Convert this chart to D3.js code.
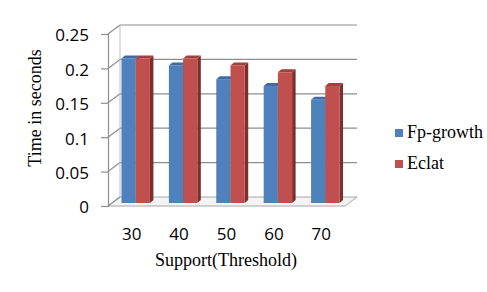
<!DOCTYPE html>
<html>
<head>
<meta charset="utf-8">
<script src="https://cdn.jsdelivr.net/npm/d3@7"></script>
<style>
  body { margin: 0; background: #fff; }
  svg { display: block; }
</style>
</head>
<body>
<svg id="chart" width="487" height="292"></svg>
<script>
// chart values
var categories = ["30", "40", "50", "60", "70"];
var seriesNames = ["Fp-growth", "Eclat"];
var fpGrowth = [0.21, 0.20, 0.18, 0.17, 0.15];
var eclat = [0.21, 0.21, 0.20, 0.19, 0.17];
var yTicks = [0, 0.05, 0.1, 0.15, 0.2, 0.25];

var svg = d3.select("#chart");

// front plane of the 3d box
var x = d3.scaleBand()
    .domain(categories)
    .range([108, 345])
    .paddingInner(0.4)
    .paddingOuter(0.2);

var xs = d3.scaleBand()
    .domain(seriesNames)
    .range([0, x.bandwidth()]);

var y = d3.scaleLinear()
    .domain([0, 0.25])
    .range([206, 34]);

// depth offsets: back wall and bar faces
var dx = 12, dy = -9;
var bdx = 4, bdy = -3;

var color = d3.scaleOrdinal().domain(seriesNames).range(["#4F81BD", "#C0504D"]);
var sideColor = d3.scaleOrdinal().domain(seriesNames).range(["#365C8C", "#7E2E2C"]);
var topColor = d3.scaleOrdinal().domain(seriesNames).range(["#3F6CA6", "#A43F3C"]);

var x0 = x.range()[0], x1 = x.range()[1];
var grey = "#8e8e8e";

// floor
svg.append("path")
    .attr("d", "M" + x0 + "," + y(0) + "L" + x1 + "," + y(0) +
        "L" + (x1 + dx) + "," + (y(0) + dy) + "L" + (x0 + dx) + "," + (y(0) + dy) + "Z")
    .attr("fill", "#f4f4f4")
    .attr("stroke", "#a6a6a6")
    .attr("stroke-width", 1);

// back wall gridlines
svg.append("g")
    .selectAll("line")
    .data(yTicks.filter(function(d) { return d > 0; }))
    .enter()
    .append("line")
    .attr("x1", x0 + dx)
    .attr("x2", x1 + dx)
    .attr("y1", function(d) { return y(d) + dy; })
    .attr("y2", function(d) { return y(d) + dy; })
    .attr("stroke", grey)
    .attr("stroke-width", 1.2);

// side wall: diagonals, left edges
svg.append("g")
    .selectAll("line")
    .data(yTicks)
    .enter()
    .append("line")
    .attr("x1", x0)
    .attr("x2", x0 + dx)
    .attr("y1", function(d) { return y(d); })
    .attr("y2", function(d) { return y(d) + dy; })
    .attr("stroke", grey)
    .attr("stroke-width", 1.2);

svg.append("line")
    .attr("x1", x0 + dx).attr("x2", x0 + dx)
    .attr("y1", y(0.25) + dy).attr("y2", y(0) + dy)
    .attr("stroke", "#bdbdbd").attr("stroke-width", 1);

// y axis on the front edge
var yAxis = svg.append("g")
    .attr("transform", "translate(" + x0 + ",0)")
    .call(d3.axisLeft(y).tickValues(yTicks).tickSize(7).tickPadding(12)
        .tickFormat(function(d) { return d3.format("")(d); }));
yAxis.select(".domain").attr("stroke", grey).attr("stroke-width", 1.2);
yAxis.selectAll(".tick line").attr("stroke", grey).attr("stroke-width", 1.2);
yAxis.selectAll("text")
    .attr("font-family", "'Open Sans', sans-serif")
    .attr("font-size", "17px")
    .attr("fill", "#000")
    .attr("dy", "0.4em");

// bars
var rows = categories.map(function(c, i) {
    return { cat: c, values: [
        { key: seriesNames[0], value: fpGrowth[i] },
        { key: seriesNames[1], value: eclat[i] }
    ] };
});

var bw = xs.bandwidth();
var sd = 3.5, sdy = -3;   // bar thickness shown on top/side

var group = svg.selectAll("g.layer")
    .data(rows)
    .enter()
    .append("g")
    .classed("layer", true)
    .attr("transform", function(d) { return "translate(" + (x(d.cat) + bdx) + "," + bdy + ")"; });

var bar = group.selectAll("g.bar")
    .data(function(d) { return d.values; })
    .enter()
    .append("g")
    .classed("bar", true);

// side face
bar.append("path")
    .attr("d", function(d) {
        var l = xs(d.key) + bw, t = y(d.value), b = y(0);
        return "M" + l + "," + t + "L" + (l + sd) + "," + (t + sdy) +
            "L" + (l + sd) + "," + (b + sdy) + "L" + l + "," + b + "Z";
    })
    .attr("fill", function(d) { return sideColor(d.key); });

// top face
bar.append("path")
    .attr("d", function(d) {
        var l = xs(d.key), t = y(d.value);
        return "M" + l + "," + t + "L" + (l + sd) + "," + (t + sdy) +
            "L" + (l + bw + sd) + "," + (t + sdy) + "L" + (l + bw) + "," + t + "Z";
    })
    .attr("fill", function(d) { return topColor(d.key); });

// front face
bar.append("rect")
    .attr("x", function(d) { return xs(d.key); })
    .attr("y", function(d) { return y(d.value); })
    .attr("width", bw)
    .attr("height", function(d) { return y(0) - y(d.value); })
    .attr("fill", function(d) { return color(d.key); });

// x labels
svg.append("g")
    .selectAll("text")
    .data(categories)
    .enter()
    .append("text")
    .attr("x", function(d) { return x(d) + x.bandwidth() / 2; })
    .attr("y", 239.5)
    .attr("text-anchor", "middle")
    .attr("font-family", "'Open Sans', sans-serif")
    .attr("font-size", "17px")
    .text(function(d) { return d; });

// axis titles
svg.append("text")
    .attr("x", 226)
    .attr("y", 266)
    .attr("text-anchor", "middle")
    .attr("font-family", "'Liberation Serif', 'Times New Roman', serif")
    .attr("font-size", "18px")
    .text("Support(Threshold)");

svg.append("text")
    .attr("transform", "translate(41,108) rotate(-90)")
    .attr("text-anchor", "middle")
    .attr("font-family", "'Liberation Serif', 'Times New Roman', serif")
    .attr("font-size", "18px")
    .text("Time in seconds");

// legend
var legend = svg.append("g")
    .selectAll("g")
    .data(seriesNames)
    .enter()
    .append("g")
    .attr("transform", function(d, i) { return "translate(395," + (129 + i * 31) + ")"; });

legend.append("rect")
    .attr("width", 8)
    .attr("height", 8)
    .attr("fill", function(d) { return color(d); });

legend.append("text")
    .attr("x", 12)
    .attr("y", 9)
    .attr("font-family", "'Liberation Serif', 'Times New Roman', serif")
    .attr("font-size", "18px")
    .text(function(d) { return d; });
</script>
</body>
</html>
